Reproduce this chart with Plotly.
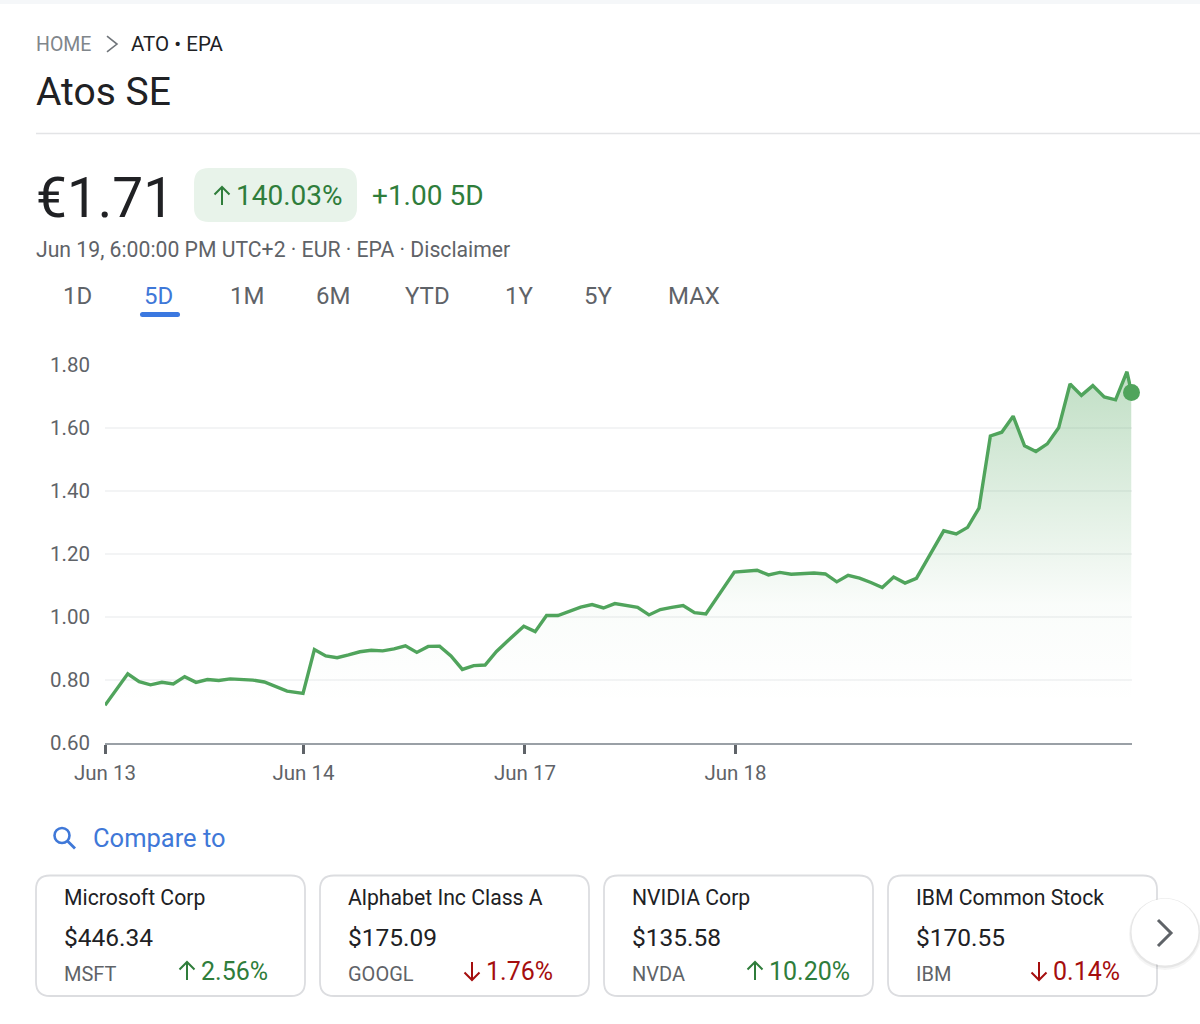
import plotly.graph_objects as go

# chart values
samples = [0, 1, 2, 3, 4, 5, 6, 7, 8, 9, 10, 11, 12, 13, 14, 15, 16, 17.4,
           18.4, 19.4, 20.4, 21.4, 22.4, 23.4, 24.4, 25.4, 26.4, 27.4, 28.4, 29.4,
           30.4, 31.4, 32.4, 33.4, 34.4, 35.4, 36.8, 37.8, 38.8, 39.8, 40.8, 41.8,
           42.8, 43.8, 44.8, 45.8, 46.8, 47.8, 48.8, 49.8, 50.8, 51.8, 52.8, 55.3,
           56.3, 57.3, 58.3, 59.3, 60.3, 61.3, 62.3, 63.3, 64.3, 65.3, 66.3, 67.3,
           68.3, 69.3, 70.3, 71.3, 73.7, 74.8, 75.8, 76.8, 77.8, 78.8, 79.8, 80.8,
           81.8, 82.8, 83.8, 84.8, 85.8, 86.8, 87.8, 88.8, 89.8, 90.2]
prices = [0.718, 0.769, 0.818, 0.793, 0.783, 0.791, 0.786, 0.809, 0.791, 0.800, 0.797,
          0.802, 0.800, 0.798, 0.792, 0.777, 0.763, 0.756, 0.895, 0.875, 0.869, 0.878,
          0.888, 0.893, 0.891, 0.897, 0.907, 0.886, 0.905, 0.906, 0.875, 0.832, 0.844,
          0.846, 0.889, 0.923, 0.969, 0.952, 1.003, 1.003, 1.016, 1.030, 1.038, 1.027,
          1.041, 1.035, 1.029, 1.005, 1.022, 1.029, 1.035, 1.012, 1.008, 1.141, 1.144,
          1.147, 1.132, 1.140, 1.134, 1.135, 1.138, 1.135, 1.110, 1.131, 1.122, 1.108,
          1.092, 1.125, 1.106, 1.121, 1.272, 1.262, 1.283, 1.344, 1.573, 1.585, 1.636,
          1.542, 1.524, 1.548, 1.599, 1.738, 1.702, 1.733, 1.697, 1.688, 1.777, 1.711]
date_ticks = [0, 17.44, 36.9, 55.4]
date_labels = ["Jun 13", "Jun 14", "Jun 17", "Jun 18"]
price_ticks = [0.6, 0.8, 1.0, 1.2, 1.4, 1.6, 1.8]

tabs = ["1D", "5D", "1M", "6M", "YTD", "1Y", "5Y", "MAX"]
tab_x = [61.5, 142.5, 228.5, 314.5, 403.5, 503.5, 582.5, 666.5]

card_names = ["Microsoft Corp", "Alphabet Inc Class A", "NVIDIA Corp", "IBM Common Stock"]
card_prices = ["$446.34", "$175.09", "$135.58", "$170.55"]
card_tickers = ["MSFT", "GOOGL", "NVDA", "IBM"]
card_changes = ["2.56%", "1.76%", "10.20%", "0.14%"]
card_up = [True, False, True, False]
card_left = [36, 320, 604, 888]
change_left = [200, 485, 768, 1052]

FONT = "Roboto"
DARK = "#202124"
GREY = "#5f6368"
GREEN = "#2f7d3b"
RED = "#a50e0e"
BLUE = "#3f78d8"
LINE = "#50a45c"
W, H = 1200, 1024


def px(x):
    return x / W


def py(y):
    return 1 - y / H


def label(text, x, y, size, color=DARK, anchor="left", weight=400):
    return dict(text=text, x=px(x), y=py(y), xref="paper", yref="paper", showarrow=False,
                xanchor=anchor, yanchor="middle", borderpad=0,
                font=dict(family=FONT, size=size, color=color, weight=weight))


def path_shape(points, color, width=2.0):
    d = "M" + " L".join(f"{px(a):.5f},{py(b):.5f}" for a, b in points)
    return dict(type="path", path=d, xref="paper", yref="paper",
                line=dict(color=color, width=width))


def round_rect(x0, y0, x1, y1, r, fill, edge=None, width=2):
    d = (f"M{px(x0 + r)},{py(y0)} L{px(x1 - r)},{py(y0)} Q{px(x1)},{py(y0)} {px(x1)},{py(y0 + r)} "
         f"L{px(x1)},{py(y1 - r)} Q{px(x1)},{py(y1)} {px(x1 - r)},{py(y1)} "
         f"L{px(x0 + r)},{py(y1)} Q{px(x0)},{py(y1)} {px(x0)},{py(y1 - r)} "
         f"L{px(x0)},{py(y0 + r)} Q{px(x0)},{py(y0)} {px(x0 + r)},{py(y0)} Z")
    return dict(type="path", path=d, xref="paper", yref="paper", fillcolor=fill,
                line=dict(color=edge or fill, width=width if edge else 0))


def circle(cx, cy, r, fill, edge=None, width=0):
    return dict(type="circle", xref="paper", yref="paper", x0=px(cx - r), x1=px(cx + r),
                y0=py(cy + r), y1=py(cy - r), fillcolor=fill,
                line=dict(color=edge or fill, width=width))


def arrow(x, y, up, color, size=9):
    # thin arrow icon, tip up or down
    sign = -1 if up else 1
    tip = y + sign * size
    tail = y - sign * size
    return [path_shape([(x, tail), (x, tip)], color, 2.0),
            path_shape([(x - 7.5, tip - sign * 7.5), (x, tip), (x + 7.5, tip - sign * 7.5)], color, 2.0)]


fig = go.Figure()

fig.add_trace(go.Scatter(
    x=samples,
    y=prices,
    mode="lines",
    line=dict(color=LINE, width=3.4),
    fill="tozeroy",
    fillgradient=dict(type="vertical", start=0.72, stop=1.78,
                      colorscale=[[0, "rgba(80,164,92,0)"], [0.3, "rgba(80,164,92,0.03)"],
                                  [1, "rgba(80,164,92,0.36)"]]),
    hoverinfo="skip",
    showlegend=False
))
fig.add_trace(go.Scatter(
    x=samples[-1:],
    y=prices[-1:],
    mode="markers",
    marker=dict(color=LINE, size=17),
    hoverinfo="skip",
    showlegend=False
))

shapes = [
    dict(type="rect", xref="paper", yref="paper", x0=0, x1=1, y0=py(4), y1=1,
         fillcolor="#f5f7f9", line=dict(width=0)),
    path_shape([(36, 133.5), (1200, 133.5)], "#e3e4e6", 1.5),
    path_shape([(107, 36), (117, 44), (107, 52)], "#70757a", 1.6),
    round_rect(194, 168, 357, 222, 15, "#e8f3ea"),
    round_rect(140, 312, 180, 317, 2.5, "#3b78e0"),
    circle(62, 835.5, 7.5, "rgba(0,0,0,0)", BLUE, 2.6),
    path_shape([(67.5, 841), (75, 848.5)], BLUE, 2.8),
]
shapes += arrow(222, 196, True, GREEN, 9)

annotations = [
    label("HOME", 35, 44, 19.5, "#80868b"),
    label("ATO • EPA", 130, 44, 20.5, DARK),
    label("Atos SE", 35, 92, 39, DARK),
    label("€1.71", 35, 198, 55, DARK),
    label("140.03%", 235, 195, 28, GREEN),
    label("+1.00 5D", 371, 195, 28, GREEN),
    label("Jun 19, 6:00:00 PM UTC+2 · EUR · EPA · Disclaimer", 35, 249, 21.2, GREY),
    label("Compare to", 92, 838, 25.5, BLUE),
]
for name, left in zip(tabs, tab_x):
    annotations.append(label(name, left, 296, 24, BLUE if name == "5D" else GREY))

for i, left in enumerate(card_left):
    shapes.append(round_rect(left, 875.5, left + 269, 996, 14, "white", "#dcdde0", 1.8))
    color = GREEN if card_up[i] else RED
    shapes += arrow(change_left[i] - 13, 971, card_up[i], color, 9)
    annotations.append(label(card_names[i], left + 27, 897, 21.2, DARK))
    annotations.append(label(card_prices[i], left + 27, 937, 24.5, DARK))
    annotations.append(label(card_tickers[i], left + 27, 973.5, 20, GREY))
    annotations.append(label(card_changes[i], change_left[i], 971, 25, color))

# next button with its soft shadow
shapes += [
    circle(1165, 934, 36, "rgba(60,64,67,0.05)"),
    circle(1165, 933, 35, "rgba(60,64,67,0.08)"),
    circle(1165, 932, 33.5, "white"),
    path_shape([(1158, 920), (1171, 933), (1158, 946)], GREY, 3),
]

fig.update_layout(
    width=W,
    height=H,
    margin=dict(l=0, r=0, t=0, b=0),
    paper_bgcolor="white",
    plot_bgcolor="white",
    showlegend=False,
    shapes=shapes,
    annotations=annotations,
    xaxis=dict(
        domain=[px(105), px(1131.5)],
        range=[0, 90.2],
        automargin=False,
        tickmode="array",
        tickvals=date_ticks,
        ticktext=date_labels,
        ticks="outside",
        ticklen=9,
        tickwidth=3,
        tickcolor=GREY,
        ticklabelstandoff=2,
        showline=True,
        linecolor="#9aa0a6",
        linewidth=2,
        showgrid=False,
        zeroline=False,
        tickfont=dict(family=FONT, size=20.5, color=GREY)
    ),
    yaxis=dict(
        domain=[py(742.5), py(364.5)],
        range=[0.6, 1.8],
        automargin=False,
        tickmode="array",
        tickvals=price_ticks,
        ticktext=[f"{v:.2f}" for v in price_ticks],
        ticks="",
        ticklabelstandoff=14,
        showline=False,
        showgrid=True,
        gridcolor="#f3f4f5",
        gridwidth=1.5,
        zeroline=False,
        tickfont=dict(family=FONT, size=20.5, color=GREY)
    )
)
# the clip of the plot area would cut the last dot and the top peak otherwise
fig.update_traces(cliponaxis=False)

fig.write_html("out.html", config=dict(displayModeBar=False),
               post_script="document.body.style.margin='0';")
